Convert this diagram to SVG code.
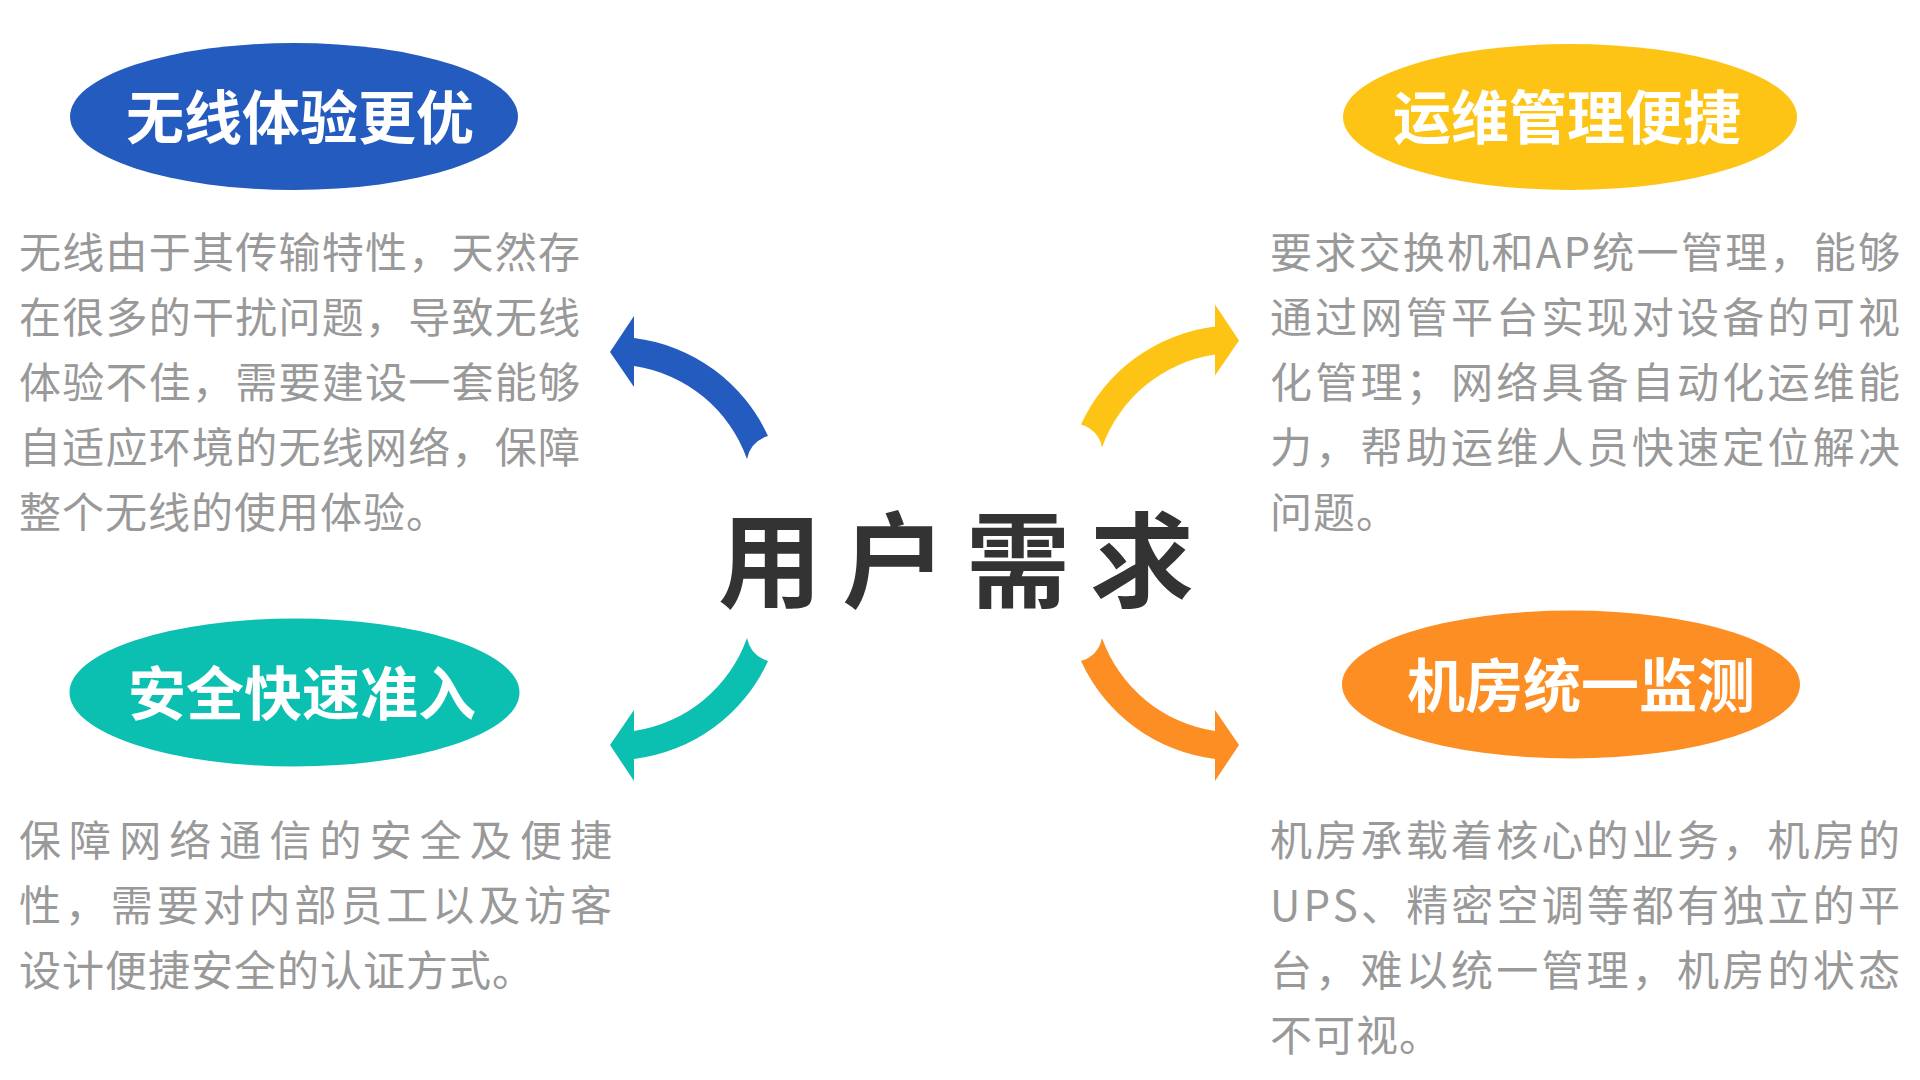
<svg xmlns="http://www.w3.org/2000/svg" xmlns:xlink="http://www.w3.org/1999/xlink" width="1920" height="1080" viewBox="0 0 1920 1080">
  <style>
    .title { font-family: "Noto Sans CJK SC", "Noto Sans", sans-serif; font-size: 58px; font-weight: 700; fill: #ffffff; text-anchor: middle; }
    .body { font-family: "Noto Sans CJK SC", "Noto Sans", sans-serif; font-size: 42px; fill: #999999; }
    .last { letter-spacing: 1px; }
    .center { font-family: "Noto Sans CJK SC", "Noto Sans", sans-serif; font-size: 104px; font-weight: 700; fill: #333333; letter-spacing: 20px; }
  </style>
  <defs>
    <path id="arrow" d="M 634,338 A 170 170 0 0 1 768,436 Q 750.5,441.5 747,459 A 142 142 0 0 0 634,366 L 634,387 L 610,352 L 634,316 Z"/>
  </defs>
  <rect width="1920" height="1080" fill="#ffffff"/>

  <g id="connectors">
    <use xlink:href="#arrow" href="#arrow" fill="#245BBE"/>
    <use xlink:href="#arrow" href="#arrow" fill="#FDC415" transform="matrix(-1,0,0,1,1849,-11.5)"/>
    <use xlink:href="#arrow" href="#arrow" fill="#0BBFB1" transform="matrix(1,0,0,-1,0,1097)"/>
    <use xlink:href="#arrow" href="#arrow" fill="#FC8E24" transform="matrix(-1,0,0,-1,1849,1097)"/>
  </g>

  <g id="center">
    <text class="center" x="718" y="600">用户需求</text>
  </g>

  <g id="node-wireless">
    <ellipse cx="294" cy="116.5" rx="224" ry="73.5" fill="#245BBE"/>
    <text class="title" x="300" y="139">无线体验更优</text>
    <text class="body" x="19" y="268" textLength="561" lengthAdjust="spacing">无线由于其传输特性，天然存</text>
    <text class="body" x="19" y="333" textLength="561" lengthAdjust="spacing">在很多的干扰问题，导致无线</text>
    <text class="body" x="19" y="398" textLength="561" lengthAdjust="spacing">体验不佳，需要建设一套能够</text>
    <text class="body" x="19" y="463" textLength="561" lengthAdjust="spacing">自适应环境的无线网络，保障</text>
    <text class="body last" x="19" y="528">整个无线的使用体验。</text>
  </g>

  <g id="node-ops">
    <ellipse cx="1570" cy="117" rx="227" ry="73" fill="#FDC415"/>
    <text class="title" x="1567" y="139">运维管理便捷</text>
    <text class="body" x="1270" y="268" textLength="630" lengthAdjust="spacing">要求交换机和AP统一管理，能够</text>
    <text class="body" x="1270" y="333" textLength="630" lengthAdjust="spacing">通过网管平台实现对设备的可视</text>
    <text class="body" x="1270" y="398" textLength="630" lengthAdjust="spacing">化管理；网络具备自动化运维能</text>
    <text class="body" x="1270" y="463" textLength="630" lengthAdjust="spacing">力，帮助运维人员快速定位解决</text>
    <text class="body last" x="1270" y="528">问题。</text>
  </g>

  <g id="node-security">
    <ellipse cx="294.5" cy="692.5" rx="225" ry="74" fill="#0BBFB1"/>
    <text class="title" x="302" y="715">安全快速准入</text>
    <text class="body" x="19" y="856" textLength="593" lengthAdjust="spacing">保障网络通信的安全及便捷</text>
    <text class="body" x="19" y="921" textLength="593" lengthAdjust="spacing">性，需要对内部员工以及访客</text>
    <text class="body last" x="19" y="986">设计便捷安全的认证方式。</text>
  </g>

  <g id="node-room">
    <ellipse cx="1571" cy="684.5" rx="229" ry="74" fill="#FC8E24"/>
    <text class="title" x="1581" y="707">机房统一监测</text>
    <text class="body" x="1270" y="856" textLength="630" lengthAdjust="spacing">机房承载着核心的业务，机房的</text>
    <text class="body" x="1270" y="921" textLength="630" lengthAdjust="spacing">UPS、精密空调等都有独立的平</text>
    <text class="body" x="1270" y="986" textLength="630" lengthAdjust="spacing">台，难以统一管理，机房的状态</text>
    <text class="body last" x="1270" y="1051">不可视。</text>
  </g>
</svg>
